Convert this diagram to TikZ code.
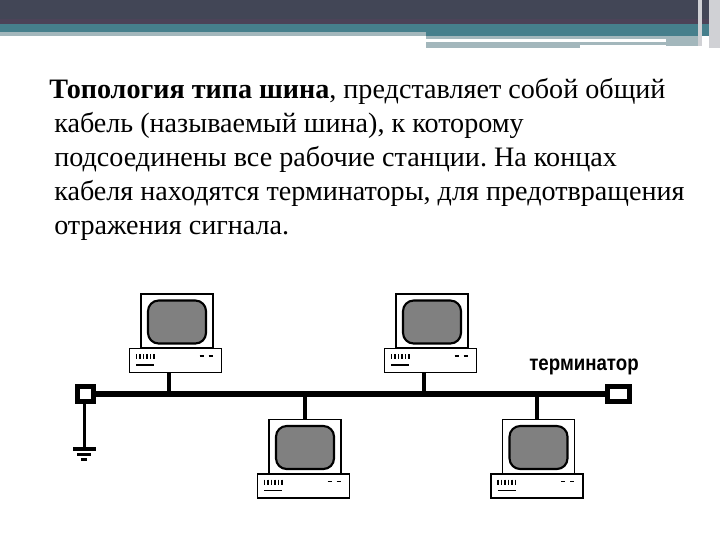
\documentclass[tikz,border=0pt]{standalone}
\usepackage{fontspec}
\setmainfont{Liberation Serif}
\newfontfamily\labelfont{Liberation Sans}
\frenchspacing
\definecolor{topdark}{HTML}{424656}
\definecolor{topplum}{HTML}{4C4358}
\definecolor{teal1}{HTML}{467F8C}
\definecolor{paleteal}{HTML}{A3B7BC}
\definecolor{screen}{HTML}{808080}
\tikzset{
  x=0.75pt,y=-0.75pt,
  wire/.style={line width=4.4pt,black},
  thinwire/.style={line width=3.3pt,black},
  monitorbox/.style={draw=black,fill=white,line width=1pt,minimum width=54pt,minimum height=40.5pt,inner sep=0,outer sep=0},
  basebox/.style={draw=black,fill=white,line width=1.2pt,minimum width=69pt,minimum height=18pt,inner sep=0,outer sep=0},
  termbox/.style={draw=black,fill=white,line width=3.6pt,inner sep=0,outer sep=0},
  bodytext/.style={anchor=base west,inner sep=0,font=\fontsize{21.1pt}{24pt}\selectfont},
  computer/.pic={
    \node[monitorbox] (-mon) at (1.5,-39.5) {};
    \fill[screen,draw=black,line width=1.6pt,rounded corners=8pt] (-27.5,-60) rectangle (30.5,-17);
    \node[basebox] (-base) at (0,0) {};
    \foreach \q in {-39,-35.5,-32,-28.5,-25,-21.5} \draw[black,line width=1.2pt] (\q,-6.5) -- (\q,-1.5);
    \draw[black,line width=1.1pt] (-39.5,4.5) -- (-21.5,4.5);
    \draw[black,line width=1.1pt] (24,-4.5) -- (28,-4.5) (33,-4.5) -- (37,-4.5);
  }
}
\begin{document}
\begin{tikzpicture}
\useasboundingbox (0,0) rectangle (720,540);
\fill[white] (0,0) rectangle (720,540);
% header band
\fill[topdark] (0,0) rectangle (720,19);
\fill[topplum] (0,19) rectangle (720,24);
\fill[teal1] (0,24) rectangle (720,36);
\fill[paleteal] (0,32) rectangle (426,36);
\fill[paleteal] (426,36) rectangle (666,39);
\fill[paleteal] (426,42) rectangle (666,45);
\fill[paleteal] (426,45) rectangle (580,48);
\fill[paleteal] (666,36) rectangle (700,46);
\fill[white!75!topdark] (698,0) rectangle (702,46);
\fill[white!75!topdark] (709,0) rectangle (720,48);
% text
\node[bodytext] (t1) at (49,98) {\textbf{Топология типа шина}, представляет собой общий};
\node[bodytext] (t2) at (54,132) {кабель (называемый шина), к которому};
\node[bodytext] (t3) at (54,166) {подсоединены все рабочие станции. На концах};
\node[bodytext] (t4) at (54,200) {кабеля находятся терминаторы, для предотвращения};
\node[bodytext] (t5) at (54,234) {отражения сигнала.};
% terminators and bus
\node[termbox,minimum width=12pt,minimum height=11.5pt] (tl) at (85.5,394) {};
\node[termbox,minimum width=16pt,minimum height=11pt] (tr) at (618.5,394) {};
\draw[wire] (tl) -- (tr);
% computers
\pic (c1) at (175.5,360.5) {computer};
\pic (c2) at (430.5,360.5) {computer};
\pic (c3) at (303.5,486) {computer};
\pic (c4) at (537,486) {computer};
\coordinate (j1) at (169,394);
\coordinate (j2) at (424,394);
\coordinate (j3) at (305,394);
\coordinate (j4) at (537,394);
\draw[thinwire] (j1) -- (j1 |- c1-base.south);
\draw[thinwire] (j2) -- (j2 |- c2-base.south);
\draw[thinwire] (j3) -- (j3 |- c3-mon.north);
\draw[thinwire] (j4) -- (j4 |- c4-mon.north);
% ground
\coordinate (gnd) at (84.5,449);
\draw[black,line width=2.2pt] (tl.south -| gnd) -- (gnd);
\draw[black,line width=2.6pt] (73,449) -- (96,449);
\draw[black,line width=2.2pt] (77,454.5) -- (91,454.5);
\draw[black,line width=2.2pt] (81,459.5) -- (87,459.5);
% label
\node[anchor=base,inner sep=0,font=\labelfont\bfseries\fontsize{14pt}{16pt}\selectfont] (lab) at (584,370) {\scalebox{1}[1.15]{терминатор}};
\end{tikzpicture}
\end{document}
